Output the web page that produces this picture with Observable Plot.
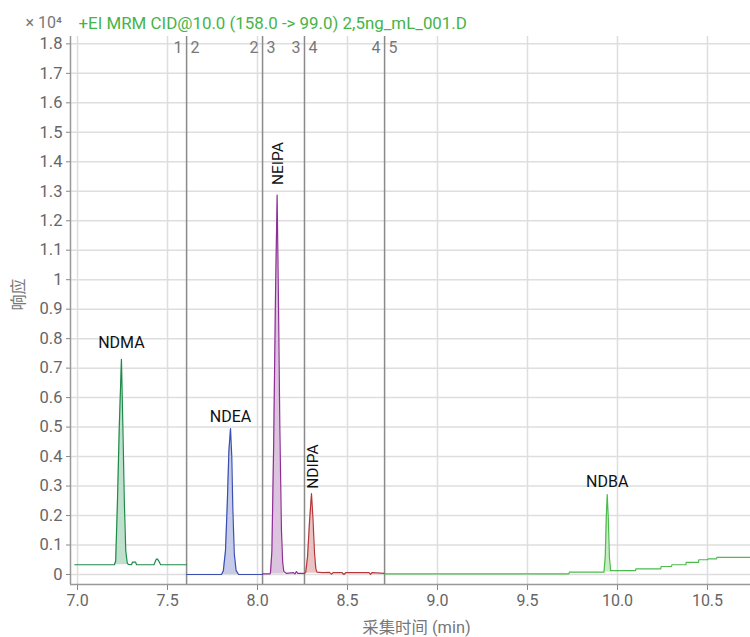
<!DOCTYPE html>
<html>
<head>
<meta charset="utf-8">
<script src="https://cdn.jsdelivr.net/npm/d3@7"></script>
<script src="https://cdn.jsdelivr.net/npm/@observablehq/plot@0.6"></script>
<style>
  body { margin: 0; background: #fff; }
  #chart svg { display: block; }
</style>
</head>
<body>
<div id="chart"></div>
<script>
// ---- chart text ----
const title = "+EI MRM CID@10.0 (158.0 -> 99.0) 2,5ng_mL_001.D";
const yUnit = "× 10⁴";
const xLabel = "采集时间 (min)";
const yLabel = "响应";

// ---- axes ----
const xTicks = [7.0, 7.5, 8.0, 8.5, 9.0, 9.5, 10.0, 10.5];
const yTicks = [0, 0.1, 0.2, 0.3, 0.4, 0.5, 0.6, 0.7, 0.8, 0.9, 1.0, 1.1, 1.2, 1.3, 1.4, 1.5, 1.6, 1.7, 1.8];
const xDomain = [6.961, 10.739];
const yDomain = [-0.034, 1.825];

// ---- acquisition segments (breaks in minutes, numbered 1..5) ----
const segmentBreaks = [7.606, 8.028, 8.261, 8.706];

// ---- compounds ----
const compounds   = ["NDMA", "NDEA", "NEIPA", "NDIPA", "NDBA"];
const peakTimes   = [7.244, 7.850, 8.109, 8.300, 9.943];
const peakHeights = [0.730, 0.495, 1.287, 0.274, 0.271];
const peakStart   = [7.205, 7.800, 8.068, 8.261, 9.925];
const peakEnd     = [7.282, 7.895, 8.146, 8.330, 9.962];
const peakBase    = [0.033, 0.000, 0.002, 0.004, 0.008];

// ---- chromatogram traces, [time (min), response (×10⁴)] ----
const ndmaTrace = [
  [6.985, 0.033], [7.205, 0.033], [7.212, 0.045], [7.222, 0.25], [7.232, 0.50],
  [7.244, 0.730], [7.252, 0.50], [7.260, 0.25], [7.268, 0.08], [7.276, 0.040],
  [7.282, 0.034], [7.300, 0.033], [7.306, 0.042], [7.322, 0.042],
  [7.328, 0.033], [7.425, 0.033], [7.436, 0.050], [7.443, 0.053], [7.452, 0.045],
  [7.462, 0.033], [7.606, 0.033]
];
const ndeaTrace = [
  [7.606, 0.000], [7.800, 0.000], [7.810, 0.012], [7.822, 0.08], [7.832, 0.24],
  [7.841, 0.42], [7.850, 0.495], [7.857, 0.40], [7.863, 0.22], [7.871, 0.07],
  [7.881, 0.014], [7.895, 0.000], [8.028, 0.000]
];
const neipaTrace = [
  [8.028, 0.002], [8.068, 0.002], [8.072, 0.005], [8.080, 0.08], [8.090, 0.45],
  [8.100, 0.95], [8.109, 1.287], [8.116, 0.95], [8.124, 0.50], [8.133, 0.15],
  [8.140, 0.04], [8.146, 0.010], [8.160, 0.004], [8.200, 0.006], [8.208, 0.002],
  [8.216, 0.010], [8.224, 0.004], [8.240, 0.004], [8.261, 0.004]
];
const ndipaTrace = [
  [8.261, 0.004], [8.268, 0.008], [8.278, 0.06], [8.289, 0.18], [8.300, 0.274],
  [8.308, 0.19], [8.317, 0.07], [8.324, 0.02], [8.330, 0.008], [8.360, 0.006],
  [8.400, 0.007], [8.410, 0.001], [8.420, 0.006], [8.470, 0.006], [8.480, 0.000],
  [8.490, 0.006], [8.620, 0.006], [8.628, 0.000], [8.636, 0.006], [8.706, 0.004]
];
const ndbaTrace = [
  [8.706, 0.002], [9.730, 0.002], [9.733, 0.008], [9.925, 0.008], [9.932, 0.06],
  [9.938, 0.20], [9.943, 0.271], [9.949, 0.19], [9.955, 0.06], [9.962, 0.013],
  [10.100, 0.013], [10.102, 0.019], [10.240, 0.019], [10.242, 0.027], [10.300, 0.027],
  [10.302, 0.033], [10.380, 0.033], [10.382, 0.041], [10.450, 0.041], [10.452, 0.050],
  [10.500, 0.050], [10.502, 0.053], [10.550, 0.053], [10.552, 0.058], [10.739, 0.058]
];
const traces = [ndmaTrace, ndeaTrace, neipaTrace, ndipaTrace, ndbaTrace];

// ---- styling ----
const lineColors = ["#1e8a4a", "#3a4fb0", "#8e2e96", "#b5373a", "#4cbb4c"];
const fillColors = ["#bfe0cc", "#c5cbe8", "#dcc3de", "#eac3c3", "#c8ecc4"];
const labelGap   = [11, 7, 10, 5, 8];   // px between a peak apex and its name
const font = "Roboto, 'Noto Sans CJK SC', sans-serif";
const axisGray = "#666";

// tidy rows for the library
const rows = traces.flatMap((tr, i) =>
  tr.map(([t, r]) => ({ compound: compounds[i], t, r })));
const fillRows = rows
  .map(d => ({ ...d, i: compounds.indexOf(d.compound) }))
  .filter(d => d.t >= peakStart[d.i] && d.t <= peakEnd[d.i])
  .map(d => ({ ...d, base: peakBase[d.i] }));
const peaks = compounds.map((c, i) => ({ c, t: peakTimes[i], h: peakHeights[i], i }));
const uprightNames = ["NEIPA", "NDIPA"];

const segLeft = segmentBreaks.map((b, k) => ({ b, label: String(k + 1) }));
const segRight = segmentBreaks.map((b, k) => ({ b, label: String(k + 2) }));

const fmtY = d => String(+d.toFixed(1));

// one text mark per compound so each name sits its own distance above the apex
const nameMarks = peaks.map(p => uprightNames.includes(p.c)
  ? Plot.text([p], { x: "t", y: "h", text: "c", rotate: -90, textAnchor: "start",
      dx: p.c === "NDIPA" ? 1.5 : 0.5, dy: -labelGap[p.i], fill: "#111", fontSize: 15.5 })
  : Plot.text([p], { x: "t", y: "h", text: "c", lineAnchor: "bottom",
      dy: -labelGap[p.i], fill: "#111", fontSize: 16 }));

const chart = Plot.plot({
  width: 750,
  height: 637,
  marginTop: 36,
  marginBottom: 53,
  marginLeft: 70,
  marginRight: 0,
  style: { fontFamily: font, fontSize: "15px", background: "#fff", overflow: "visible" },
  x: { domain: xDomain, ticks: xTicks },
  y: { domain: yDomain, ticks: yTicks },
  marks: [
    // grid
    Plot.gridY(yTicks, { stroke: "#dedede", strokeOpacity: 1, strokeWidth: 1.5 }),
    Plot.gridX(xTicks, { stroke: "#dedede", strokeOpacity: 1, strokeWidth: 1.5 }),

    // axes
    Plot.axisX(xTicks, {
      tickFormat: d => d.toFixed(1), tickSize: 6, tickPadding: 4,
      stroke: "#888", fill: axisGray, fontSize: 16, label: null
    }),
    Plot.axisY(yTicks, {
      tickFormat: fmtY, tickSize: 4, tickPadding: 4,
      stroke: "#888", fill: axisGray, fontSize: 16.5, label: null
    }),
    Plot.ruleY([yDomain[0]], { stroke: "#999", strokeWidth: 1.5 }),
    Plot.ruleX([xDomain[0]], { stroke: "#999", strokeWidth: 1.5 }),

    // segment breaks and their numbers
    Plot.ruleX(segmentBreaks, { stroke: "#8a8a8a", strokeWidth: 1.5 }),
    Plot.text(segLeft, { x: "b", frameAnchor: "top", dy: 5, dx: -4, textAnchor: "end",
      text: "label", fill: "#777", fontSize: 16 }),
    Plot.text(segRight, { x: "b", frameAnchor: "top", dy: 5, dx: 4, textAnchor: "start",
      text: "label", fill: "#777", fontSize: 16 }),

    // integrated peak areas
    ...compounds.map((c, i) => Plot.areaY(fillRows.filter(d => d.compound === c), {
      x: "t", y1: "base", y2: "r", fill: fillColors[i], fillOpacity: 1
    })),

    // traces
    ...compounds.map((c, i) => Plot.line(rows.filter(d => d.compound === c), {
      x: "t", y: "r", stroke: lineColors[i], strokeWidth: 1.2
    })),

    // compound names
    ...nameMarks,

    // title and unit above the frame
    Plot.text([title], { frameAnchor: "top-left", dx: 8, dy: -20, textAnchor: "start",
      fill: "#45b449", fontSize: 16.9 }),
    Plot.text([yUnit], { frameAnchor: "top-left", dx: -45, dy: -20, textAnchor: "start",
      fill: "#777", fontSize: 16 }),

    // axis titles
    Plot.text([xLabel], { frameAnchor: "bottom", dx: 6, dy: 48, fill: "#777", fontSize: 16.4 }),
    Plot.text([yLabel], { frameAnchor: "left", dx: -52, rotate: -90, fill: "#777", fontSize: 16 })
  ]
});

document.getElementById("chart").appendChild(chart);
</script>
</body>
</html>
